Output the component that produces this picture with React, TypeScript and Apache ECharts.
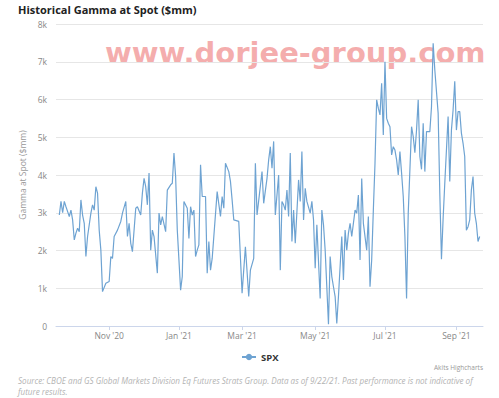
import React, { useEffect, useRef } from "react";
import * as echarts from "echarts";

// Trading-session number (session 0 = 2020-09-17, ordinal axis like Highstock)
const sessionDays = [
  2, 3, 4, 5, 6, 7, 8, 9, 10, 11, 12, 13, 14, 15, 16, 17, 18, 19, 21, 22, 23, 24, 25, 26, 27, 28, 30, 32, 33, 34, 35, 37, 39, 40,
  42, 43, 44, 45, 46, 48, 49, 51, 52, 53, 54, 55, 56, 57, 58, 59, 61, 62, 63, 64, 66, 67, 69, 70, 71, 72, 73, 75, 76, 77, 79, 80,
  81, 82, 83, 84, 85, 86, 87, 88, 90, 91, 92, 93, 94, 97, 99, 100, 101, 102, 104, 105, 106, 107, 110, 112, 114, 116, 117, 119,
  120, 121, 124, 125, 127, 128, 129, 130, 131, 132, 134, 135, 136, 137, 138, 139, 140, 141, 142, 143, 144, 146, 147, 148, 149,
  150, 151, 153, 154, 155, 156, 157, 159, 160, 161, 162, 164, 165, 166, 167, 168, 169, 170, 172, 173, 174, 175, 176, 177, 178,
  180, 181, 182, 183, 184, 185, 187, 188, 189, 190, 191, 192, 193, 194, 195, 196, 197, 198, 199, 200, 201, 202, 203, 204, 205,
  206, 207, 208, 209, 210, 211, 212, 214, 215, 216, 217, 218, 219, 220, 221, 222, 223, 225, 226, 227, 228, 230, 231, 232, 233,
  234, 236, 237, 238, 239, 240, 241, 242, 243, 244, 245, 246, 247, 248, 249, 250, 251, 252, 253, 254, 255,
];

// SPX gamma at spot, $mm
const gammaValues = [
  2940, 3300, 3000, 3300, 3160, 3030, 2900, 3070, 2810, 2280, 2460, 2590, 2500, 3340, 2940, 2720, 1840, 2370, 2990, 3210, 3070,
  3690, 3520, 2540, 2010, 910, 1130, 1180, 1840, 1790, 2370, 2540, 2770, 2990,
  3300, 2370, 2720, 2190, 1970, 3120, 3160, 2940, 3520, 3910, 3690, 3210, 4050, 2010, 2540, 2370, 1400, 2990, 2680, 2900, 2500,
  3600, 3740, 3780, 4580, 3960, 2540, 950, 1310, 3300, 3120, 2320,
  3160, 2940, 3070, 1840, 2010, 2150, 4270, 3430, 3430, 1400, 2240, 1480, 1790, 3560, 2900, 3430, 3120, 4310, 4090, 3830, 3340,
  2810, 2770, 870, 2100, 780, 1480, 1790,
  4310, 2940, 4090, 3250, 3910, 4400, 4750, 4180, 4890, 2940, 4000, 1480, 3300, 3210, 3070, 3600, 2900, 4580, 2240, 3070, 2190,
  3870, 3300, 4620, 2810,
  3650, 3300, 2990, 3300, 2810, 1530, 2680, 730, 3070, 2680, 2010, 50, 1840, 1310, 1040, 780, 70, 780, 2370, 1220, 2540, 2010,
  2460, 2720, 2370,
  3070, 2990, 3470, 1750, 3910, 2720, 2010, 2900, 1040, 1750, 3070, 4310, 5990, 5770, 5590, 6430, 5060, 7000, 5500, 5370, 5280,
  4530, 4750, 4660, 4400,
  4000, 4620, 4050, 3430, 2370, 730, 2990, 5280, 5020, 4590, 5190, 5990, 4490, 4150, 5370, 4090, 5150, 5150, 5810, 7490, 6780,
  5640, 3520, 1770, 2850,
  3780, 5550, 3830, 5190, 5720, 6480, 5190, 5680, 5680, 5110, 4840, 4490, 2540, 2630, 2810, 3600, 3960, 2990, 2720, 2240, 2370,
];

const lastSession = 257;
const tickDays = [32, 74, 112, 156, 198, 241];
const tickLabels = ["Nov '20", "Jan '21", "Mar '21", "May '21", "Jul '21", "Sep '21"];

const titleText = "Historical Gamma at Spot ($mm)";
const yAxisName = "Gamma at Spot ($mm)";
const seriesName = "SPX";
const creditText = "Akits Highcharts";
const sourceText =
  "Source: CBOE and GS Global Markets Division Eq Futures Strats Group. Data as of 9/22/21. Past performance is not indicative of\nfuture results.";
const watermarkText = "www.dorjee-group.com";

export default function App() {
  const ref = useRef<HTMLDivElement>(null);

  useEffect(() => {
    const chart = echarts.init(ref.current as HTMLDivElement, null, { renderer: "svg" });
    const lineColor = "#6ea3d2";
    chart.setOption({
      animation: false,
      backgroundColor: "#ffffff",
      title: {
        text: titleText,
        left: 18,
        top: 3,
        padding: 0,
        textStyle: {
          fontFamily: "Open Sans",
          fontWeight: "bold",
          fontSize: 11,
          lineHeight: 13,
          color: "#222",
        },
      },
      grid: { left: 56, right: 16, top: 24, bottom: 72, containLabel: false },
      xAxis: {
        type: "value",
        min: 0,
        max: lastSession,
        axisLine: { show: true, lineStyle: { color: "#ccd6eb", width: 1 } },
        axisTick: { show: true, length: 4, customValues: tickDays, lineStyle: { color: "#ccd6eb" } },
        axisLabel: {
          customValues: tickDays,
          formatter: (v: number) => {
            const k = tickDays.indexOf(Math.round(v));
            return k >= 0 ? tickLabels[k] : "";
          },
          color: "#888",
          fontSize: 8.5,
          fontFamily: "Open Sans",
          margin: 5,
        },
        splitLine: { show: false },
      },
      yAxis: {
        type: "value",
        min: 0,
        max: 8000,
        interval: 1000,
        name: yAxisName,
        nameLocation: "middle",
        nameGap: 22,
        nameTextStyle: { color: "#999", fontSize: 8.5, fontFamily: "Open Sans" },
        axisLine: { show: false },
        axisTick: { show: false },
        axisLabel: {
          formatter: (v: number) => (v === 0 ? "0" : v / 1000 + "k"),
          color: "#888",
          fontSize: 8.5,
          fontFamily: "Open Sans",
          margin: 9,
          lineHeight: 9,
        },
        splitLine: { lineStyle: { color: "#e6e6e6", width: 1 } },
      },
      legend: {
        data: [seriesName],
        left: 236,
        top: 347,
        itemWidth: 14,
        itemHeight: 8,
        itemGap: 4,
        textStyle: { fontFamily: "Open Sans", fontWeight: "bold", fontSize: 9.5, color: "#333" },
      },
      series: [
        {
          name: seriesName,
          type: "line",
          data: sessionDays.map((d, i) => [d, gammaValues[i]]),
          showSymbol: false,
          symbol: "circle",
          symbolSize: 5,
          lineStyle: { width: 1.2, color: lineColor },
          itemStyle: { color: lineColor },
        },
      ],
      graphic: [
        {
          type: "text",
          x: 105,
          y: 53,
          silent: true,
          style: {
            text: watermarkText,
            font: 'bold 29px "DejaVu Sans"',
            fill: "rgba(238, 118, 118, 0.6)",
            align: "left",
            verticalAlign: "middle",
          },
        },
        {
          type: "text",
          x: 483,
          y: 367,
          style: {
            text: creditText,
            font: '6.5px "Open Sans"',
            fill: "#999",
            align: "right",
            verticalAlign: "middle",
          },
        },
        {
          type: "text",
          x: 18,
          y: 375,
          style: {
            text: sourceText,
            font: 'italic 8.1px "Open Sans"',
            lineHeight: 11,
            fill: "#b3b3b3",
            align: "left",
            verticalAlign: "top",
          },
        },
      ],
    });
    return () => chart.dispose();
  }, []);

  return (
    <div
      ref={ref}
      style={{ position: "absolute", left: 0, top: 0, width: 499, height: 398 }}
    />
  );
}
